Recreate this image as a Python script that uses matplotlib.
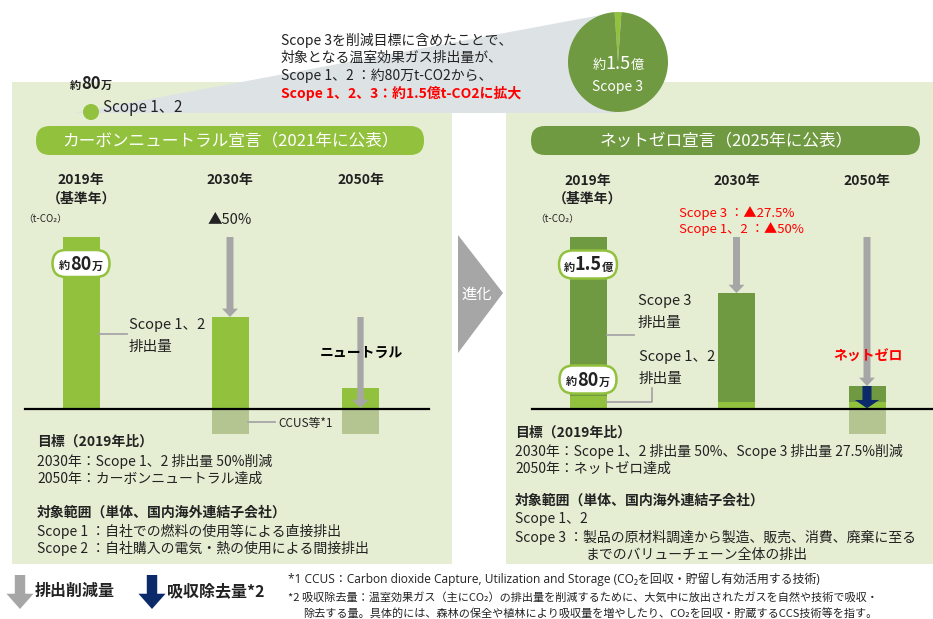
import matplotlib
matplotlib.use('Agg')
import matplotlib.pyplot as plt
from matplotlib.patches import Rectangle, FancyBboxPatch, Polygon, Circle

plt.rcParams['font.family'] = ['Noto Sans CJK JP', 'DejaVu Sans']

# ---------------- data (index, 2019 = 100, as drawn) ----------------
years = ['2019年', '2030年', '2050年']
left_scope12 = [100, 53.5, 12.2]        # Scope 1,2 emissions (carbon-neutral plan)
left_ccus = [0, -14.5, -14.5]           # CCUS etc. (below baseline)
right_scope12 = [7.5, 4.0, 4.0]         # Scope 1,2 emissions (net-zero plan)
right_scope3 = [92.5, 63.4, 9.4]        # Scope 3 emissions
right_removal = [0, 0, -14.5]           # absorption / removal
pie_labels = ['Scope 1、2', 'Scope 3']
pie_shares = [2.2, 97.8]                # share of slice as drawn

# ---------------- colours ----------------
PANEL = '#e5eed3'
GREEN = '#92c13e'
DGREEN = '#709a41'
CCUS = '#b4c591'
GREY = '#a6a6a6'
NAVY = '#0c2a6a'
TRAP = '#dde3e5'
TXT = '#222222'
RED = '#ff0000'

W, H = 933, 619
fig = plt.figure(figsize=(W / 100, H / 100), dpi=100)


def pix_axes(z):
    ax = fig.add_axes([0, 0, 1, 1], zorder=z)
    ax.set_xlim(0, W)
    ax.set_ylim(H, 0)
    ax.axis('off')
    ax.patch.set_alpha(0)
    return ax


axbg = pix_axes(0)
axtop = pix_axes(3)

BASE_Y = 409
PPU = 1.72  # pixels per index unit


def chart_axes(x0, x1, y0, y1):
    ax = fig.add_axes([x0 / W, 1 - y1 / H, (x1 - x0) / W, (y1 - y0) / H], zorder=1)
    ax.set_xlim(x0, x1)
    ax.set_ylim((BASE_Y - y1) / PPU, (BASE_Y - y0) / PPU)
    ax.axis('off')
    ax.patch.set_alpha(0)
    return ax


# ---------------- backgrounds ----------------
axbg.add_patch(Rectangle((12, 82), 440, 482, fc=PANEL, ec='none'))
axbg.add_patch(Rectangle((506, 82), 427, 482, fc=PANEL, ec='none'))
axbg.add_patch(Polygon([(75, 113), (617, 12), (617, 113)], closed=True, fc=TRAP, ec='none'))
axbg.add_patch(Polygon([(458, 235), (503, 293), (458, 353)], closed=True, fc=GREY, ec='none'))

# headers
axbg.add_patch(FancyBboxPatch((36, 126), 388, 29,
                              boxstyle='round,pad=0,rounding_size=14', fc=GREEN, ec='none'))
axbg.add_patch(FancyBboxPatch((531, 126), 389, 29,
                              boxstyle='round,pad=0,rounding_size=14', fc=DGREEN, ec='none'))
axtop.text(230, 141, 'カーボンニュートラル宣言（2021年に公表）', color='white', fontsize=12,
           ha='center', va='center')
axtop.text(726, 141, 'ネットゼロ宣言（2025年に公表）', color='white', fontsize=12,
           ha='center', va='center')

renderer = fig.canvas.get_renderer()


def rich(ax, x, y, parts, ha='center', color=TXT, z=6):
    arts, widths = [], []
    for t, s, w in parts:
        a = ax.text(0, y, t, fontsize=s, fontweight=w, color=color, va='baseline', ha='left', zorder=z)
        bb = a.get_window_extent(renderer)
        arts.append(a)
        widths.append(bb.width)
    start = x - sum(widths) / 2 if ha == 'center' else x
    for a, wd in zip(arts, widths):
        a.set_x(start)
        start += wd


def oval(cx, cy, w, h):
    axtop.add_patch(FancyBboxPatch((cx - w / 2, cy - h / 2), w, h,
                                   boxstyle=f'round,pad=0,rounding_size={h / 2}',
                                   fc='white', ec=GREEN, lw=1.8, zorder=5))


# ---------------- top: scope expansion ----------------
axtop.add_patch(Circle((91, 112), 8, fc=GREEN, ec='none'))
rich(axtop, 91, 89, [('約', 8, 'bold'), ('80', 12, 'bold'), ('万', 8, 'bold')])
axtop.text(103, 107, pie_labels[0], fontsize=11, color=TXT, ha='left', va='center')

axp = fig.add_axes([568 / W, 1 - 112 / H, 100 / W, 100 / H], zorder=2)
axp.pie(pie_shares, colors=[GREEN, DGREEN], startangle=94, counterclock=False,
        wedgeprops=dict(linewidth=0))
axp.set_xlim(-1, 1)
axp.set_ylim(-1, 1)
axp.set_aspect('equal')
rich(axtop, 618, 69, [('約', 9.5, 'normal'), ('1.5', 13, 'normal'), ('億', 9.5, 'normal')], color='white')
axtop.text(618, 87, pie_labels[1], fontsize=10, color='white', ha='center', va='center')

top_lines = ['Scope 3を削減目標に含めたことで、', '対象となる温室効果ガス排出量が、',
             'Scope 1、2 ：約80万t-CO2から、']
for i, t in enumerate(top_lines):
    axtop.text(281, 40 + i * 17.8, t, fontsize=10, color=TXT, ha='left', va='center')
axtop.text(281, 93, 'Scope 1、2、3：約1.5億t-CO2に拡大', fontsize=10, color=RED,
           fontweight='bold', ha='left', va='center')

axtop.text(477, 294, '進化', fontsize=11, color='white', ha='center', va='center')

# ---------------- left chart ----------------
LX = [81, 230, 360.5]
RX = [588, 736.5, 867]
BW = 37

axl = chart_axes(12, 452, 160, 450)
axl.bar(LX, left_scope12, width=BW, color=GREEN, zorder=2)
axl.bar(LX, left_ccus, width=BW, color=CCUS, zorder=2)
axl.plot([25, 429], [0, 0], color='black', lw=1.6, zorder=3)


def down_arrow(ax, x, y0, y1, color, tw, hw, hl, z=4):
    ax.annotate('', xy=(x, y1), xytext=(x, y0),
                arrowprops=dict(arrowstyle=f'simple,head_length={hl},head_width={hw},tail_width={tw}',
                                color=color, shrinkA=0, shrinkB=0, mutation_scale=10, lw=0),
                zorder=z)


down_arrow(axl, LX[1], left_scope12[0], left_scope12[1], GREY, 0.5, 1.15, 0.6)
down_arrow(axl, LX[2], left_scope12[1], 0.6, GREY, 0.45, 1.2, 0.6)

for x, y in zip(LX, years):
    axtop.text(x, 180, y, fontsize=10, fontweight='bold', color=TXT, ha='center', va='center')
axtop.text(LX[0], 199, '（基準年）', fontsize=10, fontweight='bold', color=TXT, ha='center', va='center')
axtop.text(45, 219, '（t-CO₂）', fontsize=7, color=TXT, ha='center', va='center')
axtop.text(LX[1], 220, '▲50%', fontsize=10.5, color=TXT, ha='center', va='center')

oval(81, 263.5, 57, 27)
rich(axtop, 81, 269.5, [('約', 8, 'bold'), ('80', 13, 'bold'), ('万', 8, 'bold')])

axtop.plot([99, 127], [334, 334], color=GREY, lw=1.3)
axtop.text(129, 325, 'Scope 1、2', fontsize=10.5, color=TXT, ha='left', va='center')
axtop.text(129, 347, '排出量', fontsize=10.5, color=TXT, ha='left', va='center')
axtop.plot([248, 275], [422, 422], color=GREY, lw=1.3)
axtop.text(278, 423, 'CCUS等*1', fontsize=8.5, color=TXT, ha='left', va='center')
axtop.text(361, 353, 'ニュートラル', fontsize=10, fontweight='bold', color='black',
           ha='center', va='center')

# ---------------- right chart ----------------
axr = chart_axes(506, 933, 160, 450)
axr.bar(RX, right_scope12, width=BW, color=GREEN, zorder=2)
axr.bar(RX, right_scope3, bottom=right_scope12, width=BW, color=DGREEN, zorder=2)
axr.bar(RX, right_removal, width=BW, color=CCUS, zorder=2)
axr.plot([532, 933], [0, 0], color='black', lw=1.6, zorder=3)
tot = [a + b for a, b in zip(right_scope12, right_scope3)]
down_arrow(axr, RX[1], tot[0], tot[1], GREY, 0.5, 1.15, 0.6)
down_arrow(axr, RX[2], tot[0], tot[2], GREY, 0.5, 1.15, 0.6)
down_arrow(axr, RX[2], tot[2], 0.4, NAVY, 0.65, 1.75, 0.6, z=5)

for x, y in zip(RX, years):
    axtop.text(x, 181, y, fontsize=10, fontweight='bold', color=TXT, ha='center', va='center')
axtop.text(RX[0], 199, '（基準年）', fontsize=10, fontweight='bold', color=TXT, ha='center', va='center')
axtop.text(557, 219, '（t-CO₂）', fontsize=7, color=TXT, ha='center', va='center')
axtop.text(679, 213, 'Scope 3 ：▲27.5%', fontsize=9.5, color=RED, ha='left', va='center')
axtop.text(679, 229, 'Scope 1、2 ：▲50%', fontsize=9.5, color=RED, ha='left', va='center')

oval(588, 264.5, 58, 28)
rich(axtop, 588, 270.5, [('約', 8, 'bold'), ('1.5', 13, 'bold'), ('億', 8, 'bold')])
oval(588, 379.5, 57, 28)
rich(axtop, 588, 385.5, [('約', 8, 'bold'), ('80', 13, 'bold'), ('万', 8, 'bold')])

axtop.plot([607, 634], [335, 335], color=GREY, lw=1.3)
axtop.text(638, 301, 'Scope 3', fontsize=10.5, color=TXT, ha='left', va='center')
axtop.text(638, 323, '排出量', fontsize=10.5, color=TXT, ha='left', va='center')
axtop.plot([607, 652, 652], [402, 402, 388], color=GREY, lw=1.3)
axtop.text(639, 357, 'Scope 1、2', fontsize=10.5, color=TXT, ha='left', va='center')
axtop.text(639, 379, '排出量', fontsize=10.5, color=TXT, ha='left', va='center')
axtop.text(868, 357, 'ネットゼロ', fontsize=10, fontweight='bold', color=RED,
           ha='center', va='center')

# ---------------- lower texts ----------------
left_lines = [
    (442, '目標（2019年比）', 'bold'),
    (461, '2030年：Scope 1、2 排出量 50%削減', 'normal'),
    (479, '2050年：カーボンニュートラル達成', 'normal'),
    (513, '対象範囲（単体、国内海外連結子会社）', 'bold'),
    (531, 'Scope 1 ：自社での燃料の使用等による直接排出', 'normal'),
    (548, 'Scope 2 ：自社購入の電気・熱の使用による間接排出', 'normal'),
]
for y, t, w in left_lines:
    axtop.text(37, y, t, fontsize=10, fontweight=w, color=TXT, ha='left', va='center')

right_lines = [
    (433, '目標（2019年比）', 'bold'),
    (451, '2030年：Scope 1、2 排出量 50%、Scope 3 排出量 27.5%削減', 'normal'),
    (469, '2050年：ネットゼロ達成', 'normal'),
    (501, '対象範囲（単体、国内海外連結子会社）', 'bold'),
    (519, 'Scope 1、2', 'normal'),
    (537, 'Scope 3 ：製品の原材料調達から製造、販売、消費、廃棄に至る', 'normal'),
]
for y, t, w in right_lines:
    axtop.text(515, y, t, fontsize=10, fontweight=w, color=TXT, ha='left', va='center')
axtop.text(586, 555, 'までのバリューチェーン全体の排出', fontsize=10, color=TXT, ha='left', va='center')

# ---------------- legend ----------------
def legend_arrow(x, y0, y1, color):
    axtop.annotate('', xy=(x, y1), xytext=(x, y0),
                   arrowprops=dict(arrowstyle='simple,head_length=1.1,head_width=1.95,tail_width=0.75',
                                   color=color, shrinkA=0, shrinkB=0, mutation_scale=10, lw=0))


legend_arrow(20, 575, 609, GREY)
legend_arrow(152, 575, 609, NAVY)
axtop.text(35, 591, '排出削減量', fontsize=11.5, fontweight='bold', color=TXT, ha='left', va='center')
axtop.text(167, 591, '吸収除去量*2', fontsize=11.5, fontweight='bold', color=TXT, ha='left', va='center')

axtop.text(288, 579, '*1 CCUS：Carbon dioxide Capture, Utilization and Storage (CO₂を回収・貯留し有効活用する技術)',
           fontsize=8.6, color=TXT, ha='left', va='center', family=['Open Sans', 'Noto Sans CJK JP'])
axtop.text(288, 597, '*2 吸収除去量：温室効果ガス（主にCO₂）の排出量を削減するために、大気中に放出されたガスを自然や技術で吸収・',
           fontsize=8, color=TXT, ha='left', va='center')
axtop.text(303, 614, '除去する量。具体的には、森林の保全や植林により吸収量を増やしたり、CO₂を回収・貯蔵するCCS技術等を指す。',
           fontsize=8, color=TXT, ha='left', va='center')

fig.savefig('out.png', dpi=100, facecolor='white')
